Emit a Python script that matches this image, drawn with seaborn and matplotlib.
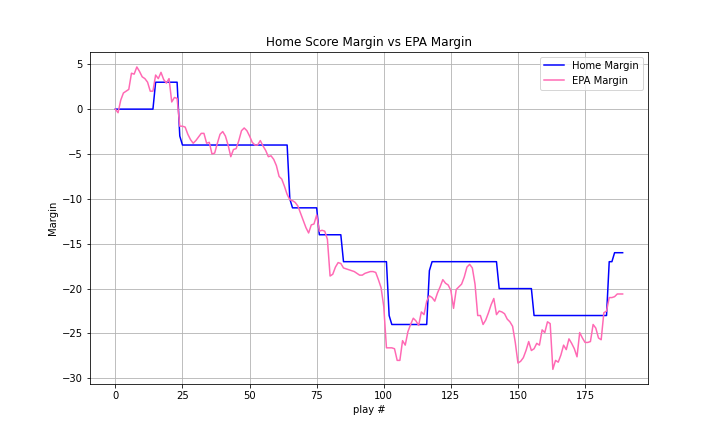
import numpy as np
import pandas as pd
import matplotlib
matplotlib.use('Agg')
import matplotlib.pyplot as plt
import seaborn as sns

# Werte (ein Wert pro Spielzug)
home_margin = [
    0, 0, 0, 0, 0, 0, 0, 0, 0, 0,
    0, 0, 0, 0, 0, 3, 3, 3, 3, 3,
    3, 3, 3, 3, -3, -4, -4, -4, -4, -4,
    -4, -4, -4, -4, -4, -4, -4, -4, -4, -4,
    -4, -4, -4, -4, -4, -4, -4, -4, -4, -4,
    -4, -4, -4, -4, -4, -4, -4, -4, -4, -4,
    -4, -4, -4, -4, -4, -10, -11, -11, -11, -11,
    -11, -11, -11, -11, -11, -11, -14, -14, -14, -14,
    -14, -14, -14, -14, -14, -17, -17, -17, -17, -17,
    -17, -17, -17, -17, -17, -17, -17, -17, -17, -17,
    -17, -17, -23, -24, -24, -24, -24, -24, -24, -24,
    -24, -24, -24, -24, -24, -24, -24, -18, -17, -17,
    -17, -17, -17, -17, -17, -17, -17, -17, -17, -17,
    -17, -17, -17, -17, -17, -17, -17, -17, -17, -17,
    -17, -17, -17, -20, -20, -20, -20, -20, -20, -20,
    -20, -20, -20, -20, -20, -20, -23, -23, -23, -23,
    -23, -23, -23, -23, -23, -23, -23, -23, -23, -23,
    -23, -23, -23, -23, -23, -23, -23, -23, -23, -23,
    -23, -23, -23, -23, -17, -17, -16, -16, -16, -16,
]

epa_margin = [
    0.0, -0.4, 1.0, 1.8, 2.0, 2.2, 4.0, 3.9, 4.7, 4.2,
    3.6, 3.4, 3.0, 2.0, 2.0, 3.8, 3.4, 4.1, 3.3, 2.9,
    3.4, 0.8, 1.3, 1.2, -1.9, -1.9, -2.0, -2.8, -3.4, -3.8,
    -3.5, -3.1, -2.7, -2.7, -3.8, -3.7, -5.0, -4.9, -3.8, -2.8,
    -2.5, -3.0, -4.0, -5.3, -4.5, -4.4, -3.5, -2.4, -2.1, -2.4,
    -3.0, -3.7, -4.0, -4.0, -3.5, -4.1, -4.6, -5.3, -5.2, -5.6,
    -6.3, -7.5, -7.8, -8.6, -9.5, -10.1, -10.2, -10.4, -10.8, -11.6,
    -12.4, -13.2, -13.8, -12.9, -12.8, -11.8, -13.6, -13.5, -13.6, -14.5,
    -18.6, -18.4, -17.6, -17.1, -17.2, -17.7, -17.8, -17.9, -18.0, -18.1,
    -18.3, -18.5, -18.5, -18.3, -18.2, -18.1, -18.1, -18.2, -19.0, -19.9,
    -22.0, -26.6, -26.6, -26.6, -26.7, -28.0, -28.0, -25.8, -26.3, -24.8,
    -24.0, -23.3, -23.6, -24.1, -22.6, -22.9, -21.4, -20.8, -21.0, -21.4,
    -20.5, -19.8, -19.0, -19.4, -19.6, -20.2, -22.2, -20.1, -19.8, -19.5,
    -18.7, -17.6, -17.3, -17.7, -19.5, -23.0, -23.0, -24.0, -23.5, -22.7,
    -21.8, -21.1, -22.9, -22.5, -22.6, -22.8, -23.4, -23.7, -24.2, -26.0,
    -28.3, -28.1, -27.7, -26.9, -25.9, -26.9, -26.7, -26.1, -26.3, -24.6,
    -24.9, -23.7, -23.9, -29.0, -28.0, -28.2, -27.4, -26.3, -26.8, -25.6,
    -26.1, -26.7, -27.6, -24.9, -25.5, -26.0, -26.0, -25.9, -24.0, -24.4,
    -25.5, -25.7, -22.7, -22.5, -21.0, -21.0, -20.9, -20.6, -20.6, -20.6,
]

plays = np.arange(len(home_margin))

df = pd.DataFrame({
    'play': plays,
    'home_margin': home_margin,
    'epa_margin': epa_margin,
})

fig, ax = plt.subplots(figsize=(10, 6), dpi=72)

sns.lineplot(data=df, x='play', y='home_margin', color='blue', label='Home Margin', ax=ax)
sns.lineplot(data=df, x='play', y='epa_margin', color='hotpink', label='EPA Margin', ax=ax)

ax.grid(True)
ax.set_title('Home Score Margin vs EPA Margin')
ax.set_xlabel('play #')
ax.set_ylabel('Margin')
ax.legend(loc='upper right')

fig.savefig('out.png', dpi=72)
